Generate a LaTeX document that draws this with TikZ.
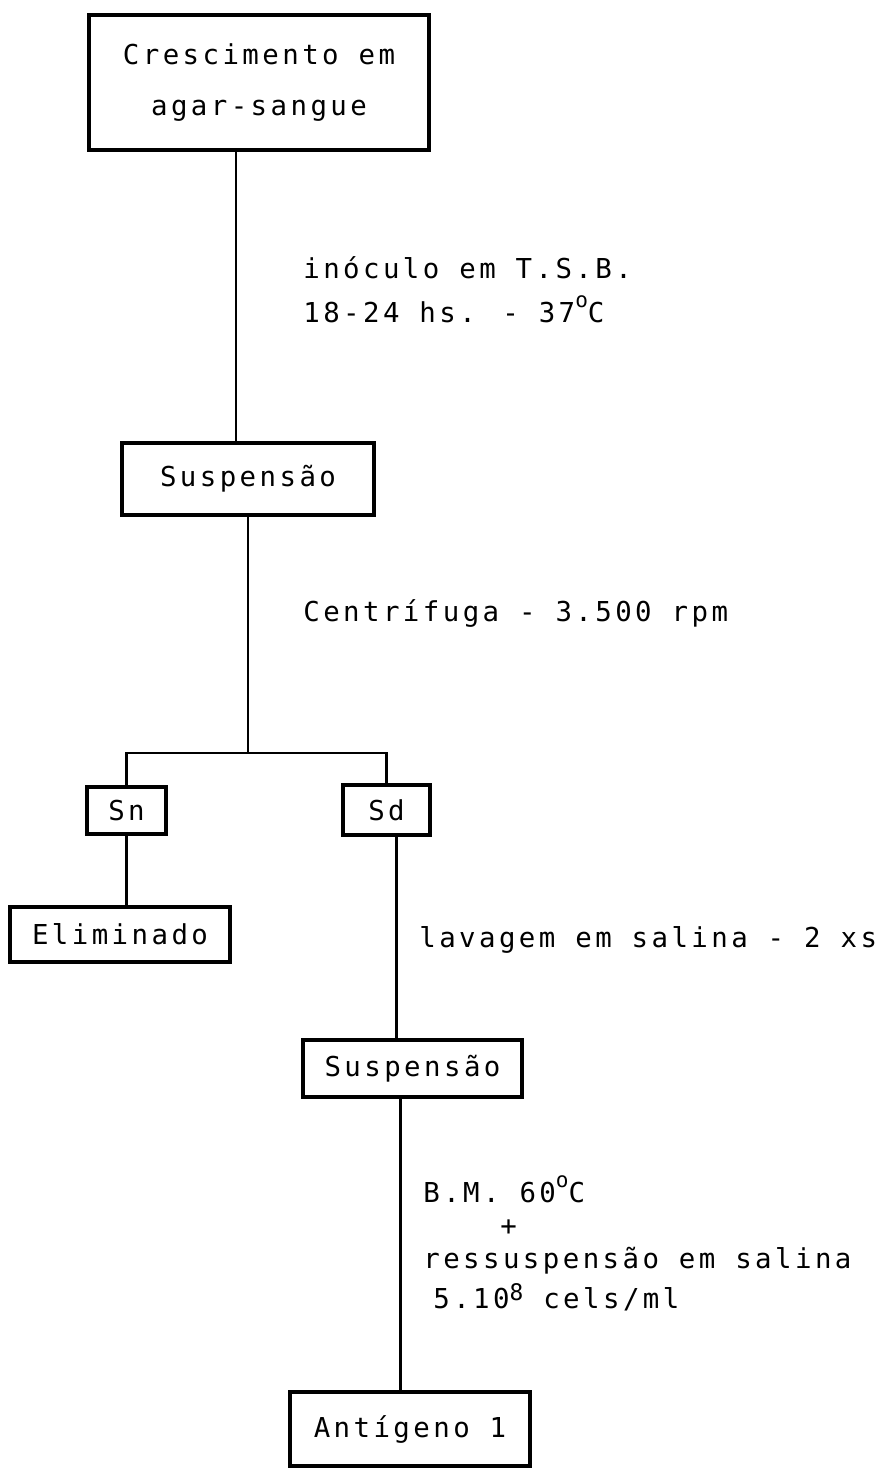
\documentclass[tikz,border=0pt]{standalone}
\usepackage{fontspec}
\newfontfamily\typewriter[LetterSpace=12.5]{DejaVu Sans Mono}
\def\boxrule{2.2pt}
\def\linkrule{1.6pt}
\newcommand\upmark[3]{\raisebox{#2}{\fontsize{#1}{#1}\selectfont#3}}

\begin{document}
\begin{tikzpicture}[
        x=0.02cm,y=-0.02cm,
        every node/.style={font=\typewriter\fontsize{15.6}{18.8}\selectfont},
        stepbox/.style={draw,line width=\boxrule,inner sep=0pt,outer sep=0pt,align=center},
        note/.style={anchor=west,inner sep=0pt,align=left},
        link/.style={line width=\linkrule}
    ]
    \useasboundingbox (0,0) rectangle (884,1470);

    % boxes
    \node[stepbox,minimum width=6.8cm,minimum height=2.7cm] (grow) at (259,82.5) {Crescimento em\\[10pt]agar-sangue};
    \node[stepbox,minimum width=5.04cm,minimum height=1.44cm] (susp1) at (248,479) {Suspensão};
    \node[stepbox,minimum width=1.58cm,minimum height=0.94cm] (sn) at (126.5,810.5) {Sn};
    \node[stepbox,minimum width=1.74cm,minimum height=1cm] (sd) at (386.5,810) {Sd};
    \node[stepbox,minimum width=4.4cm,minimum height=1.1cm] (elim) at (120,934.5) {Eliminado};
    \node[stepbox,minimum width=4.38cm,minimum height=1.14cm] (susp2) at (412.5,1068.5) {Suspensão};
    \node[stepbox,minimum width=4.8cm,minimum height=1.48cm] (antig) at (410,1429) {Antígeno 1};

    % links
    \coordinate (split) at (248,753);
    \draw[link] ([xshift=-0.24cm]susp1.north) -- ([xshift=-0.24cm]susp1.north |- grow.south);
    \draw[link] (susp1.south) -- (split);
    \draw[link] (sn.north) |- (split) -| (sd.north);
    \draw[link] (sn.south) -- (elim.north -| sn.south);
    \draw[link] ([xshift=0.2cm]sd.south) -- ([xshift=0.2cm]sd.south |- susp2.north);
    \draw[link] ([xshift=-0.24cm]susp2.south) -- ([xshift=-0.24cm]susp2.south |- antig.north);

    % labels
    \node[note] (inoc) at (303,290) {inóculo em T.S.B.\\[6pt]18-24 hs. - 37\upmark{12}{8.5pt}{o}C};
    \node[note] (centr) at (303,613) {Centrífuga - 3.500 rpm};
    \node[note] (lav) at (419,940) {lavagem em salina - 2 xs};
    \node[note] (bm) at (423,1243) {B.M. 60\upmark{12}{8.5pt}{o}C\\\hspace*{1.54cm}+\\ressuspensão em salina\\[4pt]\hspace*{0.2cm}5.10\upmark{13}{4.5pt}{8} cels/ml};

\end{tikzpicture}
\end{document}
